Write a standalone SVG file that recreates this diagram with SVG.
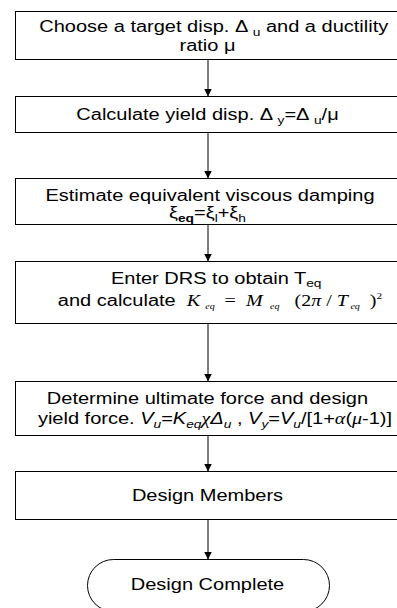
<svg xmlns="http://www.w3.org/2000/svg" width="397" height="608" viewBox="0 0 397 608">
<defs>
<style>
.box{fill:#fff;stroke:#000;stroke-width:1}
.con{stroke:#000;stroke-width:1;fill:none}
.t{font-family:"Liberation Sans",Arial,sans-serif;font-size:16px;fill:#000;text-anchor:middle}
.s{font-size:11px}
.i{font-style:italic}
.m{font-family:"Liberation Serif","Times New Roman",serif;font-style:italic}
.r{font-family:"Liberation Serif","Times New Roman",serif}
.tiny{font-size:8px}
</style>
<marker id="ah" markerUnits="userSpaceOnUse" markerWidth="8" markerHeight="8" refX="8" refY="4" orient="auto">
<path d="M0,0 L8,4 L0,8 z" fill="#000"/>
</marker>
</defs>
<rect width="397" height="608" fill="#fff"/>
<g id="connectors">
<line class="con" x1="208" y1="59.5" x2="208" y2="96.5" marker-end="url(#ah)"/>
<line class="con" x1="208" y1="132.5" x2="208" y2="178.5" marker-end="url(#ah)"/>
<line class="con" x1="208" y1="224.5" x2="208" y2="261.5" marker-end="url(#ah)"/>
<line class="con" x1="208" y1="323.5" x2="208" y2="381.5" marker-end="url(#ah)"/>
<line class="con" x1="208" y1="435.5" x2="208" y2="471.5" marker-end="url(#ah)"/>
<line class="con" x1="208" y1="519.5" x2="208" y2="559.5" marker-end="url(#ah)"/>
</g>
<g id="n1">
<rect class="box" x="15.5" y="11.5" width="390" height="48"/>
<g transform="matrix(1.25,0,0,1,-52.5,0)">
<text class="t" x="213" y="32">Choose a target disp. Δ <tspan class="s" dy="4">u</tspan><tspan dy="-4"> and a ductility</tspan></text>
<text class="t" x="208" y="51">ratio μ</text>
</g>
</g>
<g id="n2">
<rect class="box" x="15.5" y="96.5" width="390" height="36"/>
<g transform="matrix(1.25,0,0,1,-52.5,0)">
<text class="t" x="208" y="120">Calculate yield disp. Δ <tspan class="s" dy="4">y</tspan><tspan dy="-4">=Δ </tspan><tspan class="s" dy="4">u</tspan><tspan dy="-4">/μ</tspan></text>
</g>
</g>
<g id="n3">
<rect class="box" x="15.5" y="178.5" width="390" height="46"/>
<g transform="matrix(1.25,0,0,1,-52.5,0)">
<text class="t" x="210" y="201">Estimate equivalent viscous damping</text>
<text class="t" x="208" y="218">ξ<tspan class="s" font-weight="bold" dy="4">eq</tspan><tspan dy="-4">=ξ</tspan><tspan class="s" dy="4">l</tspan><tspan dy="-4">+ξ</tspan><tspan class="s" dy="4">h</tspan></text>
</g>
</g>
<g id="n4">
<rect class="box" x="15.5" y="261.5" width="390" height="62"/>
<g transform="matrix(1.25,0,0,1,-52.5,0)">
<text class="t" x="215" y="284">Enter DRS to obtain T<tspan class="s" dy="3">eq</tspan></text>
<text class="t" x="218" y="306" xml:space="preserve">and calculate  <tspan class="m" font-size="16">K</tspan><tspan class="m tiny" dy="3">  eq</tspan><tspan class="r" font-size="16" dy="-3">  =  </tspan><tspan class="m" font-size="16">M</tspan><tspan class="m tiny" dy="3">   eq</tspan><tspan class="r" font-size="16" dy="-3">   (2</tspan><tspan class="m" font-size="16">π</tspan><tspan class="r" font-size="16"> / </tspan><tspan class="m" font-size="16">T</tspan><tspan class="m tiny" dy="3"> eq</tspan><tspan class="r" font-size="16" dy="-3">  )</tspan><tspan class="r" font-size="9" dy="-7">2</tspan></text>
</g>
</g>
<g id="n5">
<rect class="box" x="15.5" y="381.5" width="390" height="54"/>
<g transform="matrix(1.25,0,0,1,-52.5,0)">
<text class="t" x="208" y="404">Determine ultimate force and design</text>
<text class="t" x="214" y="424">yield force.  <tspan class="i">V</tspan><tspan class="s i" dy="4">u</tspan><tspan dy="-4">=</tspan><tspan class="i">K</tspan><tspan class="s i" dy="4">eq</tspan><tspan class="m" dy="-4">χ</tspan><tspan class="i">Δ</tspan><tspan class="s i" dy="4">u</tspan><tspan dy="-4"> , </tspan><tspan class="i">V</tspan><tspan class="s i" dy="4">y</tspan><tspan dy="-4">=</tspan><tspan class="i">V</tspan><tspan class="s i" dy="4">u</tspan><tspan dy="-4">/[1+</tspan><tspan class="m">α</tspan>(<tspan class="m">μ</tspan>-1)]</text>
</g>
</g>
<g id="n6">
<rect class="box" x="15.5" y="471.5" width="390" height="48"/>
<g transform="matrix(1.25,0,0,1,-52.5,0)">
<text class="t" x="208" y="501">Design Members</text>
</g>
</g>
<g id="n7">
<rect class="box" x="87.5" y="559.5" width="242" height="52" rx="26" ry="26"/>
<g transform="matrix(1.25,0,0,1,-52.5,0)">
<text class="t" x="208" y="590">Design Complete</text>
</g>
</g>
</svg>
